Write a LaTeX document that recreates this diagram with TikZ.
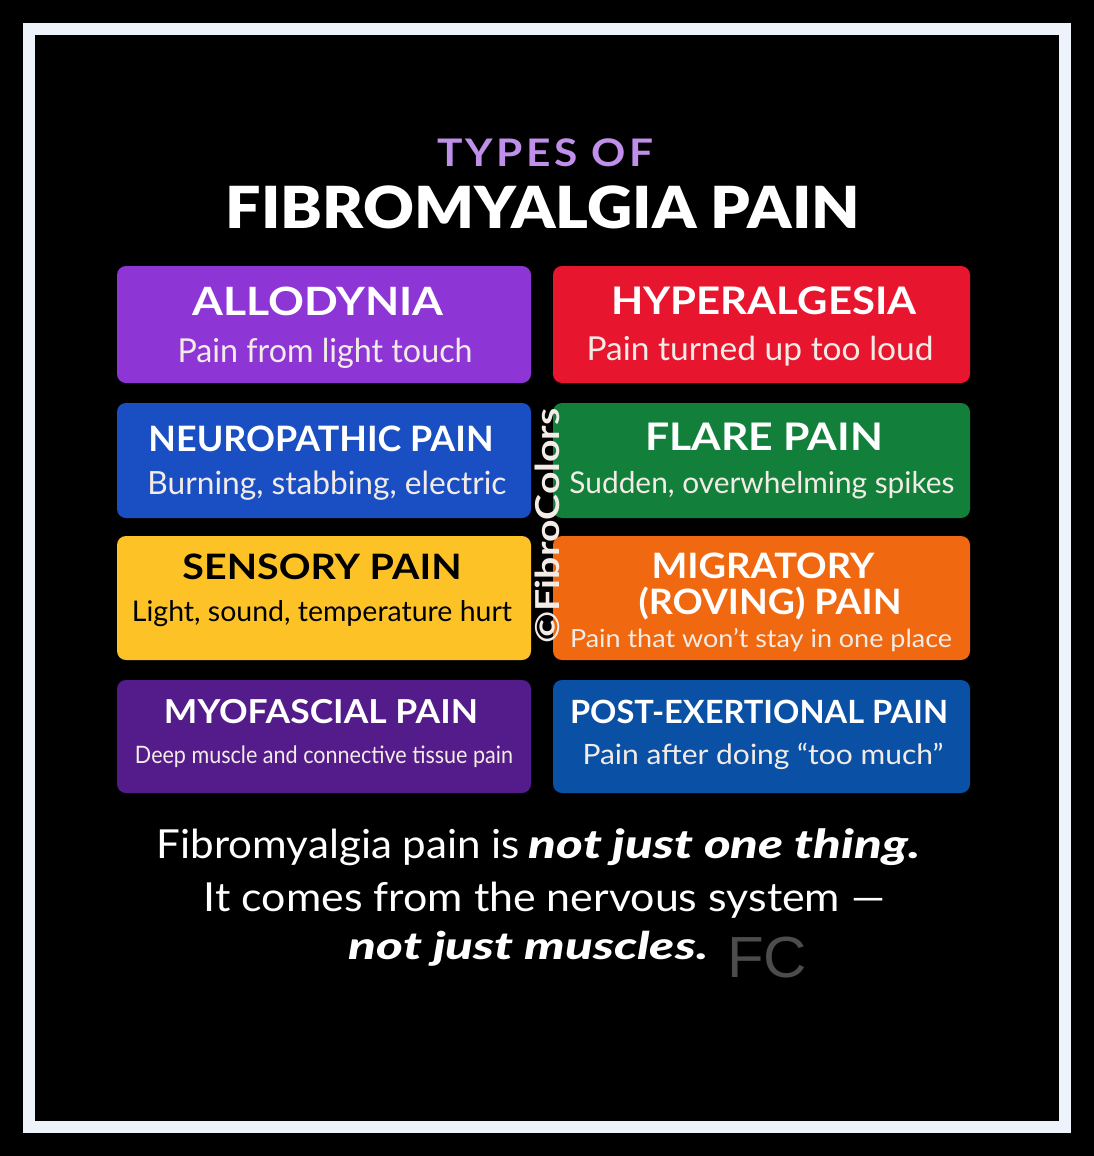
\documentclass[tikz,border=0pt]{standalone}
\usepackage{graphicx}
\usepackage{fontspec}
\setmainfont{Lato}
\newfontface\heavy{Lato Black}
\newfontface\heavyit{Lato Black Italic}
\newfontface\spaced[LetterSpace=8]{Lato Bold}
\usetikzlibrary{calc}
\definecolor{cpurple}{HTML}{8E35D6}
\definecolor{cred}{HTML}{E8152F}
\definecolor{cblue}{HTML}{1A4FC4}
\definecolor{cgreen}{HTML}{12803A}
\definecolor{cyellow}{HTML}{FDC326}
\definecolor{corange}{HTML}{F0680F}
\definecolor{cviolet}{HTML}{541C8A}
\definecolor{cnavy}{HTML}{0A51A6}
\definecolor{cframe}{HTML}{EEF2FA}
\definecolor{clilac}{HTML}{C08FEA}
\definecolor{clight}{HTML}{F3ECE6}
\newcommand{\fit}[3]{\resizebox{#1pt}{\height}{\fontsize{#2}{#2}\selectfont #3}}
\tikzset{
 x=1pt,y=-1pt,
 card/.style={rounded corners=9pt},
 txt/.style={anchor=center,inner sep=0pt,text=white},
 head/.style={txt,font=\bfseries},
 sub/.style={txt,text=clight},
}
\begin{document}
\begin{tikzpicture}
\useasboundingbox (0,0) rectangle (1094,1156);
\fill[black] (0,0) rectangle (1094,1156);
\fill[cframe] (23,23) rectangle (1071,1133);
\fill[black] (35,35) rectangle (1059,1121);
\node[txt,text=clilac] (t1) at (545,153) {\fit{216}{38}{\spaced TYPES OF}};
\node[txt] (t2) at (543,207) {\fit{634}{58}{\heavy FIBROMYALGIA PAIN}};
\fill[cpurple,card] (117,266) rectangle (531,383);
\fill[cred,card] (553,266) rectangle (970,383);
\fill[cblue,card] (117,403) rectangle (531,518);
\fill[cgreen,card] (553,403) rectangle (970,518);
\fill[cyellow,card] (117,536) rectangle (531,660);
\fill[corange,card] (553,536) rectangle (970,660);
\fill[cviolet,card] (117,680) rectangle (531,793);
\fill[cnavy,card] (553,680) rectangle (970,793);
\node[head] (a1) at (318,301) {\fit{251}{39}{ALLODYNIA}};
\node[sub] (a2) at (325,353) {\fit{295}{33}{Pain from light touch}};
\node[head] (b1) at (764,301) {\fit{305}{38}{HYPERALGESIA}};
\node[sub] (b2) at (760,351) {\fit{347}{33}{Pain turned up too loud}};
\node[head] (c1) at (321,439) {\fit{345}{35}{NEUROPATHIC PAIN}};
\node[sub] (c2) at (327,486) {\fit{359}{32}{Burning, stabbing, electric}};
\node[head] (d1) at (764,437) {\fit{238}{38}{FLARE PAIN}};
\node[sub] (d2) at (762,485) {\fit{385}{30}{Sudden, overwhelming spikes}};
\node[head,text=black] (e1) at (322,567) {\fit{279}{35}{SENSORY PAIN}};
\node[sub,text=black] (e2) at (322,614) {\fit{380}{28.5}{Light, sound, temperature hurt}};
\node[head] (f1) at (763,566) {\fit{223}{35}{MIGRATORY}};
\node[head] (f3) at (770,604) {\fit{263}{35}{(ROVING) PAIN}};
\node[sub] (f2) at (761,640) {\fit{382}{25}{Pain that won’t stay in one place}};
\node[head] (g1) at (321,712) {\fit{314}{33}{MYOFASCIAL PAIN}};
\node[sub] (g2) at (324,757) {\fit{378}{24}{Deep muscle and connective tissue pain}};
\node[head] (h1) at (759,712) {\fit{378}{32}{POST-EXERTIONAL PAIN}};
\node[sub] (h2) at (763,756) {\fit{361}{28}{Pain after doing “too much”}};
\node[txt,text=clight,rotate=90] (wm) at (547,526) {\fit{235}{33}{\bfseries ©FibroColors}};
\node[txt] (l1a) at (338.5,847) {\fit{363}{40}{Fibromyalgia pain is}};
\node[txt] (l1b) at (724.5,847) {\fit{391}{40}{\heavyit not just one thing.}};
\node[txt] (l2) at (544.5,900) {\fit{681}{40}{It comes from the nervous system —}};
\node[txt] (l3) at (528.5,948.5) {\fit{359}{38}{\heavyit not just muscles.}};
\node[txt,text=black!70!white] (fc) at (767,958) {\fit{80}{58}{\fontspec{Liberation Sans}FC}};
\end{tikzpicture}
\end{document}
